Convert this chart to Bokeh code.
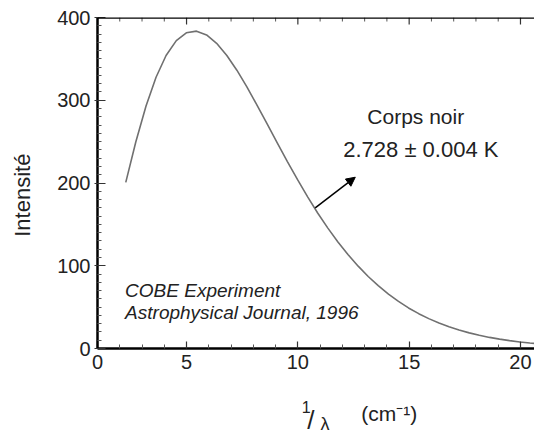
import math
from bokeh.plotting import figure
from bokeh.layouts import column
from bokeh.models import (Range1d, FixedTicker, Label, Arrow, NormalHead, Span)
from bokeh.core.properties import value
from bokeh.embed import file_html
from bokeh.resources import INLINE

# Spectrum (1/lambda in cm^-1, intensity)
wavenumber = [2.27, 2.72, 3.18, 3.63, 4.08, 4.54, 4.99, 5.45, 5.90, 6.35, 6.81, 7.26,
              7.71, 8.17, 8.62, 9.08, 9.53, 9.98, 10.44, 10.89, 11.34, 11.80, 12.25,
              12.71, 13.16, 13.61, 14.07, 14.52, 14.97, 15.43, 15.88, 16.34, 16.79,
              17.24, 17.70, 18.15, 18.61, 19.06, 19.51, 19.97, 20.42, 20.87]
intensity = [200.7, 249.5, 293.0, 327.8, 354.1, 372.1, 381.5, 383.5, 378.9, 368.8,
             354.1, 336.3, 316.1, 293.9, 271.4, 248.2, 225.9, 204.3, 183.3, 163.8,
             145.8, 128.8, 113.6, 99.5, 87.0, 75.9, 65.8, 56.9, 49.0, 42.1, 36.1,
             30.8, 26.3, 22.3, 18.9, 16.0, 13.4, 11.3, 9.5, 7.9, 6.6, 5.5]

x_ticks = [1, 5, 10, 15, 20]
x_tick_labels = {1: "0"}
x_minor = [2, 3, 4, 6, 7, 8, 9, 11, 12, 13, 14, 16, 17, 18, 19]
y_ticks = [0, 100, 200, 300, 400]
y_minor = [v for v in range(10, 400, 10) if v % 100 != 0]

FONT = "Liberation Sans"
Y_TOP = 400
PX_PER_UNIT = 331 / 400.0

xr = Range1d(1.0, 20.63)
p = figure(width=534, height=390, output_backend="svg", toolbar_location=None,
           x_range=xr, y_range=Range1d(0, Y_TOP),
           min_border_left=97, min_border_right=0, min_border_top=17, min_border_bottom=42)
p.outline_line_color = None
p.grid.visible = False
p.background_fill_color = "white"
p.border_fill_color = "white"

p.line(wavenumber, intensity, line_color="#707070", line_width=1.6)

for ax in p.xaxis:
    ax.ticker = FixedTicker(ticks=x_ticks, minor_ticks=x_minor)
    ax.major_label_overrides = x_tick_labels
    ax.major_tick_in = 7
    ax.major_tick_out = 0
    ax.minor_tick_in = 4
    ax.minor_tick_out = 0
    ax.major_label_standoff = 6
for ax in p.yaxis:
    ax.ticker = FixedTicker(ticks=y_ticks, minor_ticks=y_minor)
    ax.major_tick_in = 8
    ax.major_tick_out = 3
    ax.minor_tick_in = 4
    ax.minor_tick_out = 0
    ax.major_label_standoff = 4
    ax.axis_label = "Intensit\u00e9\u00a0\u00a0\u00a0\u00a0"
    ax.axis_label_text_font = FONT
    ax.axis_label_text_font_size = "22px"
    ax.axis_label_text_font_style = "normal"
    ax.axis_label_text_color = "#222222"
    ax.axis_label_standoff = 19
for ax in p.axis:
    ax.axis_line_width = 2.5
    ax.axis_line_color = "black"
    ax.major_tick_line_color = "#333333"
    ax.major_tick_line_width = 1.2
    ax.minor_tick_line_color = "#555555"
    ax.minor_tick_line_width = 1
    ax.major_label_text_font = FONT
    ax.major_label_text_font_size = "20px"
    ax.major_label_text_color = "#222222"

# top border with inward ticks
p.add_layout(Span(location=Y_TOP, dimension="width", line_color="black", line_width=2.5))
major_len = 7 / PX_PER_UNIT
minor_len = 4 / PX_PER_UNIT
p.segment(x0=x_ticks, y0=[Y_TOP] * len(x_ticks), x1=x_ticks,
          y1=[Y_TOP - major_len] * len(x_ticks), line_color="#333333", line_width=1.2)
p.segment(x0=x_minor, y0=[Y_TOP] * len(x_minor), x1=x_minor,
          y1=[Y_TOP - minor_len] * len(x_minor), line_color="#555555", line_width=1)

def lab(x, y, text, size, **kw):
    p.add_layout(Label(x=x, y=y, text=text, text_font=FONT, text_font_size=size,
                       text_color="#222222", **kw))

# annotations
lab(13.12, 280, "Corps noir", "21px", text_baseline="alphabetic")
lab(12.04, 240, "2.728 \u00b1 0.004 K", "22px", text_baseline="alphabetic")
lab(2.24, 70, "COBE Experiment", "19px", text_font_style="italic", text_baseline="alphabetic")
lab(2.24, 44, "Astrophysical Journal, 1996", "19px", text_font_style="italic", text_baseline="alphabetic")

p.add_layout(Arrow(end=NormalHead(size=9, fill_color="black", line_color="black"),
                   x_start=10.78, y_start=170, x_end=12.58, y_end=207,
                   line_color="black", line_width=1.5))

# x-axis title strip (shares the x range; y in pixels from bottom of strip)
q = figure(width=534, height=45, output_backend="svg", toolbar_location=None,
           x_range=xr, y_range=Range1d(0, 45),
           min_border=0, min_border_left=97, x_axis_type=None, y_axis_type=None)
q.outline_line_color = None
q.grid.visible = False
q.background_fill_color = "white"
q.border_fill_color = "white"

def qt(x, y, text, size, **kw):
    q.text(x=[x], y=[y], text=[text], text_font=value(FONT), text_font_size=value(size),
           text_color="#222222", **kw)

qt(10.18, 35, "1", "16px", text_baseline="top")
qt(10.42, 16, "/", "26px", text_baseline="alphabetic")
qt(11.02, 12, "\u03bb", "18px", text_baseline="alphabetic")
qt(12.85, 22, "(cm\u207b\u00b9)", "21px", text_baseline="middle")

open("out.html", "w").write(file_html(column(p, q, spacing=0), INLINE))
